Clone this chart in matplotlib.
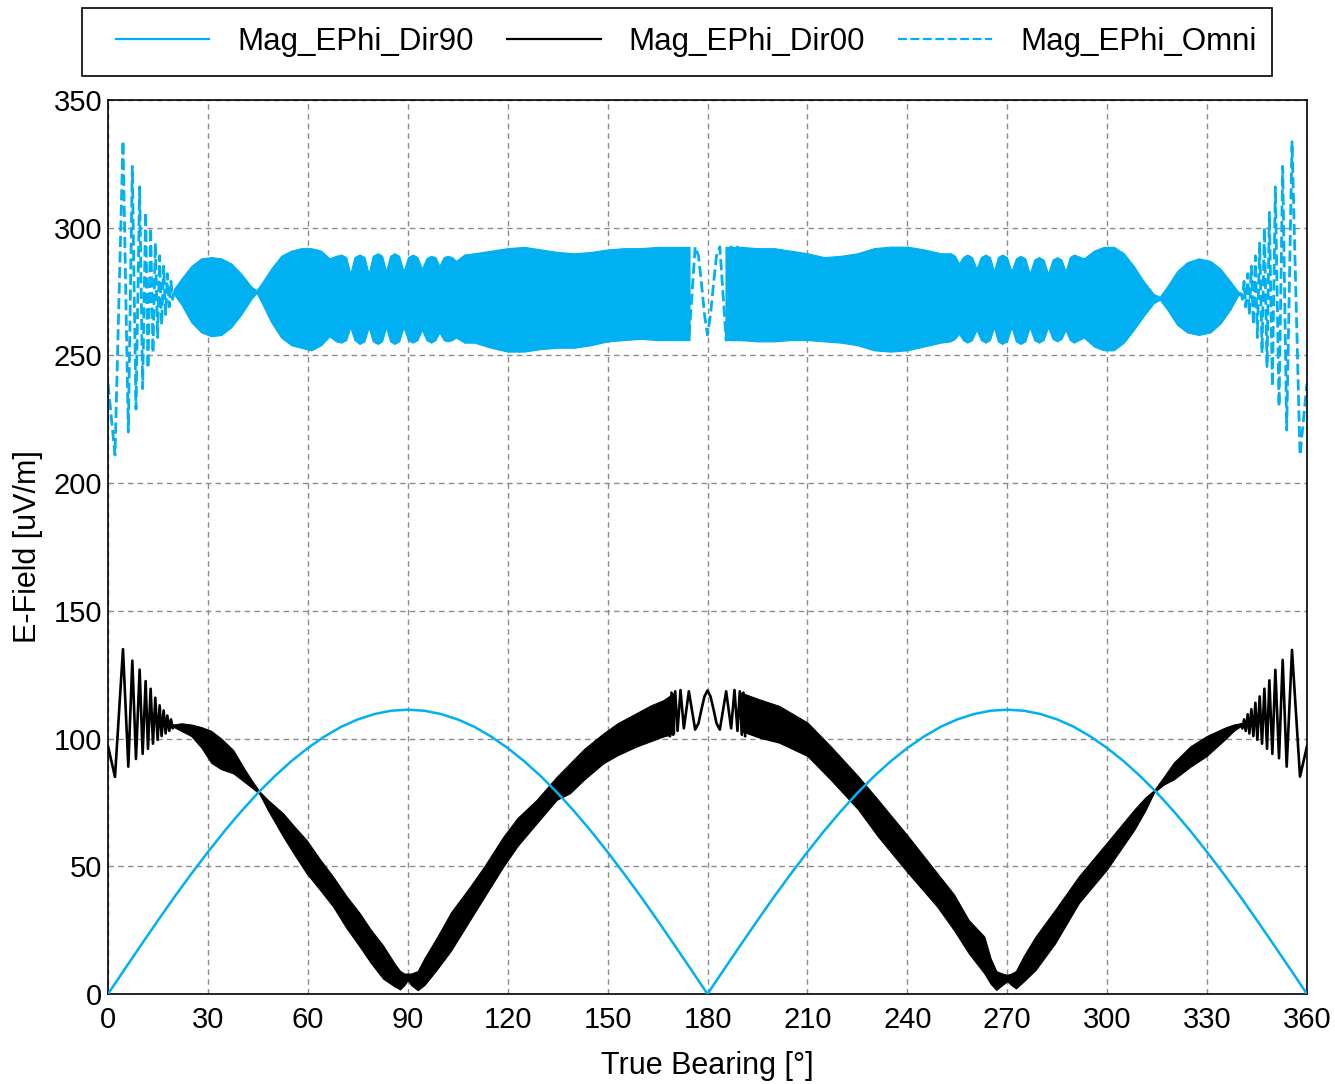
import matplotlib
matplotlib.use("Agg")
import matplotlib.pyplot as plt
from matplotlib.patches import Rectangle

plt.rcParams['font.family'] = ['Liberation Sans', 'DejaVu Sans']

# ---------------- data ----------------
# Mag_EPhi_Dir90 : smooth curve, sampled every 5 degrees
dir90_deg = list(range(0, 361, 5))
dir90_val = [0, 9.7, 19.3, 28.8, 38.1, 47.0, 55.6, 63.8, 71.5, 78.7, 85.2, 91.1, 96.3,
             100.8, 104.6, 107.5, 109.6, 110.9, 111.3, 110.9, 109.6, 107.5, 104.6, 100.8,
             96.3, 91.1, 85.2, 78.7, 71.5, 63.8, 55.6, 47.0, 38.1, 28.8, 19.3, 9.7, 0,
             9.7, 19.3, 28.8, 38.1, 47.0, 55.6, 63.8, 71.5, 78.7, 85.2, 91.1, 96.3,
             100.8, 104.6, 107.5, 109.6, 110.9, 111.3, 110.9, 109.6, 107.5, 104.6, 100.8,
             96.3, 91.1, 85.2, 78.7, 71.5, 63.8, 55.6, 47.0, 38.1, 28.8, 19.3, 9.7, 0]

# visible oscillations (peaks / troughs) near 0 deg
osc_left_deg = [0, 2.1, 4.5, 6.1, 7.3, 8.4, 9.5, 10.4, 11.3, 12.0, 12.8, 13.5, 14.2, 14.9,
                15.5, 16.1, 16.7, 17.3, 17.8, 18.4, 18.9, 19.4, 19.8]
omni_left_val = [239, 211, 334, 220, 324, 229, 316, 237, 306, 245, 300, 251, 294, 257,
                 289, 262, 285, 266, 282, 269, 279, 272, 275]
dir00_left_val = [97, 85, 135, 89, 130.5, 92, 127, 94, 122.5, 96, 119.5, 98, 116, 99.5,
                  113, 101, 111, 102, 109, 103, 107.5, 104, 105]

# visible oscillations near 180 deg
osc_mid_deg = [168.7, 169.2, 169.7, 170.3, 171.0, 171.9, 172.9, 174.4, 176.3, 177.3, 178.2,
               179.1, 180, 180.9, 181.8, 182.7, 183.7, 185.6, 187.1, 188.1, 189.0, 189.7,
               190.3, 190.8, 191.3]
omni_mid_val = [292, 256, 292, 256, 292.5, 256, 292.5, 256, 292.5, 289, 278, 266, 258, 266,
                278, 289, 292.5, 256, 292.5, 256, 292.5, 256, 292, 256, 292]
dir00_mid_val = [101, 118, 101.5, 118.5, 103, 119, 104, 118.5, 103.5, 106, 111.5, 116.5,
                 118.8, 116.5, 111.5, 106, 103.5, 118.5, 104, 119, 103, 118.5, 101.5, 118, 101]

# visible oscillations near 360 deg
osc_right_deg = [340.2, 340.6, 341.1, 341.6, 342.2, 342.7, 343.3, 343.9, 344.5, 345.1, 345.8,
                 346.5, 347.2, 348.0, 348.7, 349.6, 350.5, 351.6, 352.7, 353.9, 355.5, 357.9, 360]
omni_right_val = [274.5, 272, 279, 269, 282, 266, 285, 262, 289, 257, 294, 251, 300, 245.6,
                  306, 237.8, 316, 230, 324, 220.8, 333.7, 211, 239]
dir00_right_val = [105.5, 104, 107.5, 103, 109.5, 102, 111.5, 101, 114, 99.5, 116.5, 98,
                   119.5, 96, 122.8, 94, 126.9, 92.3, 130.8, 89, 134.7, 85.1, 97]

# dense oscillation bands: upper / lower envelopes
omni_envA_deg = [19.8, 22, 25, 28, 31, 34, 37, 40, 43, 44.6, 46, 49, 52, 55, 58, 61, 64,
                 66.5, 68.5, 70, 71.5, 72.75, 74, 75.5, 77, 78.25, 79.5, 81, 82.3, 83.5,
                 84.7, 86, 87.4, 88.75, 90.1, 91.5, 92.9, 94.25, 95.6, 97, 98.3, 99.5,
                 100.8, 102, 103.3, 104.5, 107, 110, 115, 120, 125, 130, 135, 140, 145,
                 150, 155, 160, 165, 170, 174.6]
omni_envA_hi = [276, 280, 285, 288, 288.5, 288, 286, 282, 277, 275.5, 278, 284, 289, 291,
                292, 292, 291,
                288, 289, 289.5, 288.5, 282, 288.5, 289.5, 288.5, 282, 289, 290, 289, 283,
                289, 290, 289, 283, 288.5, 289.5, 288.5, 284, 288, 289, 288.5, 285,
                288.5, 289, 288.5, 287, 289.5, 290, 291, 292, 292.5, 291.5, 290.5, 290,
                290.5, 291.5, 292, 292, 292.5, 292.5, 292.5]
omni_envA_lo = [274, 270, 263, 259, 257.5, 258, 261, 266, 272, 274.5, 271, 263, 257, 254,
                253, 252, 254,
                257.5, 255.5, 255, 256, 261, 256, 254.5, 255.5, 261, 255.5, 254.5, 255.5,
                261, 255.5, 254.5, 255.5, 261, 256, 255, 256, 260, 256, 255, 256, 259,
                256, 255.5, 256, 257, 255, 255, 253, 251.5, 251.5, 252.5, 253, 253, 254,
                255.5, 256, 256.5, 256, 256, 256]

omni_envB_deg = [185.4, 190, 195, 200, 205, 210, 215, 220, 225, 230, 235, 240, 245, 250, 253,
                 254.3, 255.5, 256.7, 258, 259.4, 260.75, 262.1, 263.5, 264.8, 266, 267.2,
                 268.5, 269.9, 271.25, 272.6, 274, 275.4, 276.75, 278.1, 279.5, 280.9,
                 282.25, 283.6, 285, 286.3, 287.5, 288.8, 290, 293, 296, 299, 302, 305, 308,
                 311, 314, 315.8, 318, 321, 324, 327.5, 331, 334, 337, 339.3, 340.2]
omni_envB_hi = [292.5, 292.5, 292, 292, 291, 290, 288.5, 289, 290, 292, 292.6, 292.6, 291.5, 290,
                290, 289, 286, 288.5, 289.5, 288.5, 284, 288.5, 289.5, 288.5, 283, 288.5,
                289.5, 288.5, 283, 288, 289, 288, 282, 287.5, 288.5, 287.5,
                282, 287.5, 288.5, 287.5, 283, 288.5, 289.5, 288, 291, 292.5, 292.5, 290, 285,
                279, 274, 273, 277, 283, 286.5, 288, 287, 284, 279, 275, 274.5]
omni_envB_lo = [256, 256, 255.5, 255.5, 256, 256, 255.5, 255, 254, 252, 251.5, 252, 253.5, 255,
                255.5, 256.5, 258.5, 256, 255, 256, 260, 256, 255, 256, 261, 255.5,
                254.5, 255.5, 261, 255.5, 254.5, 255.5, 261, 256, 255, 256,
                261, 256.5, 255.5, 256.5, 260, 256, 255, 257, 253.5, 252, 252, 255, 260,
                265.5, 270.5, 271.8, 268, 262, 259, 258, 259, 262.5, 268, 273.5, 274]

dir00_envA_deg = [19.8, 22, 25, 28, 31, 34, 37.6, 41, 43.5, 45.5, 48, 52.6, 56, 59.6, 63.5,
                  67.6, 71.5, 75.6, 79, 82.6, 86, 87.7, 89, 90, 91, 93, 95, 98.7, 103, 108.7,
                  113, 118.7, 123, 128.7, 134.7, 138.7, 143, 148.7, 153, 158.7, 163, 166.7, 170]
dir00_envA_hi = [105.5, 106, 105.5, 104.5, 103, 100, 95.5, 88, 83, 79.3, 76, 70.7, 65.5,
                 60.3, 53, 45.9, 38.5, 31.6, 25, 19, 12, 9, 8, 8, 8, 9, 14, 22, 32, 42, 50,
                 61.6, 69, 76, 85, 90.3, 96, 102, 106, 110, 113, 115, 118]
dir00_envA_lo = [104.5, 103, 101, 96.5, 90.5, 88, 86.4, 83, 80.5, 78.3, 72, 61.6, 54.5,
                 47.3, 41, 34.2, 26, 18.5, 12, 6, 3, 1.8, 3.5, 5.5, 3.5, 1.5, 3.5, 9.5, 17,
                 29, 38, 49.9, 58, 66.8, 76, 78.6, 84, 90.3, 93.5, 96.9, 99, 100.8, 102]

dir00_envB_deg = [190, 195.5, 201.5, 210, 216.9, 225.2, 231.1, 240.2, 248.9, 254, 258.4,
                  263.1, 265, 266.7, 268.5, 270, 271.2, 272.6, 275, 278.5, 284.4, 291.5,
                  299.9, 308.2, 311.5, 314.1, 317, 320, 325, 329.9, 335.4, 338, 340.2]
dir00_envB_hi = [118, 115.4, 112.8, 106.3, 97.1, 85.3, 76.2, 61.8, 47.4, 39, 29, 22.5, 14,
                 9, 8, 7.5, 8, 9, 15, 22.5, 33, 46.1, 59.2, 72.3, 77, 79.8, 85, 90.6, 97,
                 101, 104.3, 105.5, 106]
dir00_envB_lo = [103, 100.4, 98.4, 93.2, 84, 72.3, 61.8, 47.4, 34.3, 25, 16, 8.1, 4, 1.6,
                 3.5, 5, 3.5, 2.2, 5, 9.4, 19.9, 35.6, 48.7, 64.4, 72, 79, 82, 84, 89, 93.2,
                 99.7, 103, 105]

labels = ['Mag_EPhi_Dir90', 'Mag_EPhi_Dir00', 'Mag_EPhi_Omni']
x_ticks = list(range(0, 361, 30))
y_ticks = list(range(0, 351, 50))

# ---------------- styles ----------------
BLUE = '#00B0F0'
BLACK = '#000000'
omni_ls = (0, (4, 1.6))

fig = plt.figure(figsize=(13.35, 10.84), dpi=100)
ax = fig.add_axes([108 / 1335, 1 - 994 / 1084, 1199 / 1335, 894 / 1084])

# Omni (dashed blue)
for d, hi, lo in [(omni_envA_deg, omni_envA_hi, omni_envA_lo),
                  (omni_envB_deg, omni_envB_hi, omni_envB_lo)]:
    ax.fill_between(d, lo, hi, color=BLUE, lw=0.8, zorder=2)
h_omni, = ax.plot(osc_left_deg, omni_left_val, color=BLUE, lw=2.0, ls=omni_ls, zorder=2)
ax.plot(osc_mid_deg, omni_mid_val, color=BLUE, lw=2.0, ls=omni_ls, zorder=2)
ax.plot(osc_right_deg, omni_right_val, color=BLUE, lw=2.0, ls=omni_ls, zorder=2)

# Dir00 (black)
for d, hi, lo in [(dir00_envA_deg, dir00_envA_hi, dir00_envA_lo),
                  (dir00_envB_deg, dir00_envB_hi, dir00_envB_lo)]:
    ax.fill_between(d, lo, hi, color=BLACK, lw=0.8, zorder=3)
h_d00, = ax.plot(osc_left_deg, dir00_left_val, color=BLACK, lw=1.9, zorder=3)
ax.plot(osc_mid_deg, dir00_mid_val, color=BLACK, lw=1.9, zorder=3)
ax.plot(osc_right_deg, dir00_right_val, color=BLACK, lw=1.9, zorder=3)

# Dir90 (solid blue)
h_d90, = ax.plot(dir90_deg, dir90_val, color=BLUE, lw=1.8, zorder=4)

ax.set_xlim(0, 360)
ax.set_ylim(0, 350)
ax.set_xticks(x_ticks)
ax.set_yticks(y_ticks)
ax.grid(True, color='#8c8c8c', linestyle=(0, (4, 3)), linewidth=1.0, zorder=0)
ax.set_axisbelow(True)
ax.tick_params(axis='both', length=0, labelsize=21)
ax.tick_params(axis='x', pad=9)
ax.tick_params(axis='y', pad=4)
for s in ax.spines.values():
    s.set_linewidth(1.2)
    s.set_color('black')

ax.set_xlabel('True Bearing [°]', fontsize=22, labelpad=12)
ax.set_ylabel('E-Field [uV/m]', fontsize=22, labelpad=8)

leg = fig.legend([h_d90, h_d00, h_omni], labels, loc='center',
                 bbox_to_anchor=(686 / 1335, 1 - 42 / 1084), ncol=3, frameon=False,
                 fontsize=22.5, handlelength=3.0, handletextpad=0.9,
                 columnspacing=1.05, borderpad=0.3)
for ln in leg.get_lines():
    ln.set_linewidth(1.6)

fig.patches.append(Rectangle((82 / 1335, 1 - 76 / 1084), 1190 / 1335, 68 / 1084,
                             transform=fig.transFigure, fill=False, ec='black', lw=1.2))

fig.savefig('out.png', dpi=100)
